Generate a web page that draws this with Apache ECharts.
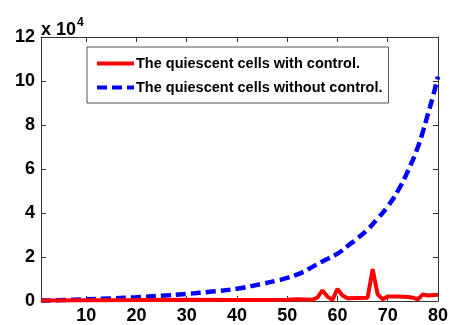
<!DOCTYPE html>
<html>
<head>
<meta charset="utf-8">
<script src="https://cdn.jsdelivr.net/npm/echarts@6/dist/echarts.min.js"></script>
<style>
  html, body { margin: 0; padding: 0; background: #fff; }
  #chart { width: 451px; height: 325px; }
</style>
</head>
<body>
<div id="chart"></div>
<script>
// values in units of 10^4
const blueX = [1, 5, 10, 15, 20, 25, 30, 35, 40, 45, 48, 50, 53, 55, 57, 60, 62, 64, 66, 68, 70, 72, 74, 76, 77, 78, 79, 80]
const blueY = [0.02, 0.04, 0.08, 0.12, 0.17, 0.24, 0.32, 0.43, 0.56, 0.78, 0.93, 1.05, 1.3, 1.55, 1.8, 2.15, 2.5, 2.85, 3.25, 3.75, 4.3, 5.0, 5.9, 7.0, 7.7, 8.5, 9.3, 10.2]

const redX = [1, 10, 20, 30, 40, 50, 52, 55, 56, 57, 58, 59, 60, 61, 62, 64, 66, 67, 68, 69, 70, 72, 74, 75, 76, 77, 78, 80]
const redY = [0.02, 0.03, 0.04, 0.06, 0.05, 0.06, 0.08, 0.06, 0.15, 0.48, 0.2, 0.05, 0.55, 0.25, 0.12, 0.14, 0.15, 1.45, 0.3, 0.08, 0.2, 0.2, 0.18, 0.15, 0.08, 0.3, 0.25, 0.28]

const xTicks = [10, 20, 30, 40, 50, 60, 70, 80]
const seriesNames = ['The quiescent cells with control.', 'The quiescent cells without control.']

const pairs = (xs, ys) => xs.map((x, i) => [x, ys[i]])

const axisColor = '#333'
const font = 'Liberation Sans, Arial, sans-serif'

const chart = echarts.init(document.getElementById('chart'))

const xBase = {
  type: 'value',
  min: 1,
  max: 80,
  axisLine: { show: true, onZero: false, lineStyle: { color: axisColor, width: 1 } },
  axisTick: { show: true, inside: true, length: 5, customValues: xTicks, lineStyle: { color: axisColor } },
  splitLine: { show: false },
}
const yBase = {
  type: 'value',
  min: 0,
  max: 12,
  interval: 2,
  axisLine: { show: true, lineStyle: { color: axisColor, width: 1 } },
  axisTick: { show: true, inside: true, length: 5, lineStyle: { color: axisColor } },
  splitLine: { show: false },
}

chart.setOption({
  animation: false,
  backgroundColor: '#fff',
  grid: { left: 41, right: 11, top: 37, bottom: 22 },
  legend: {
    orient: 'vertical',
    left: 87,
    top: 47,
    data: seriesNames,
    itemWidth: 37,
    itemHeight: 10,
    itemGap: 9,
    padding: [9, 6, 8, 8],
    borderColor: '#555',
    borderWidth: 1,
    backgroundColor: '#fff',
    itemStyle: { opacity: 0 },
    lineStyle: { width: 4 },
    textStyle: { fontFamily: font, fontWeight: 'bold', fontSize: 14.5, color: '#000', padding: [0, 0, 0, -3] },
  },
  xAxis: [
    Object.assign({}, xBase, {
      position: 'bottom',
      axisLabel: { customValues: xTicks, fontFamily: font, fontWeight: 'bold', fontSize: 18, color: '#000', margin: 6 },
    }),
    Object.assign({}, xBase, { position: 'top', axisLabel: { show: false } }),
  ],
  yAxis: [
    Object.assign({}, yBase, {
      position: 'left',
      name: '{a|x 10}{b|4}',
      nameLocation: 'end',
      nameGap: -6,
      nameTextStyle: {
        align: 'left',
        rich: {
          a: { fontFamily: font, fontWeight: 'bold', fontSize: 18, color: '#000' },
          b: { fontFamily: font, fontWeight: 'bold', fontSize: 12, color: '#000', padding: [0, 0, 14, 1] },
        },
      },
      axisLabel: { fontFamily: font, fontWeight: 'bold', fontSize: 18, color: '#000', margin: 6 },
    }),
    Object.assign({}, yBase, { position: 'right', axisLabel: { show: false } }),
  ],
  series: [
    {
      name: seriesNames[0],
      type: 'line',
      data: pairs(redX, redY),
      symbol: 'none',
      color: '#ff0000',
      lineStyle: { color: '#ff0000', width: 4 },
      z: 3,
    },
    {
      name: seriesNames[1],
      type: 'line',
      data: pairs(blueX, blueY),
      symbol: 'none',
      smooth: true,
      color: '#0000ff',
      lineStyle: { color: '#0000ff', width: 4.5, type: [10, 5] },
      z: 2,
    },
  ],
})
</script>
</body>
</html>
